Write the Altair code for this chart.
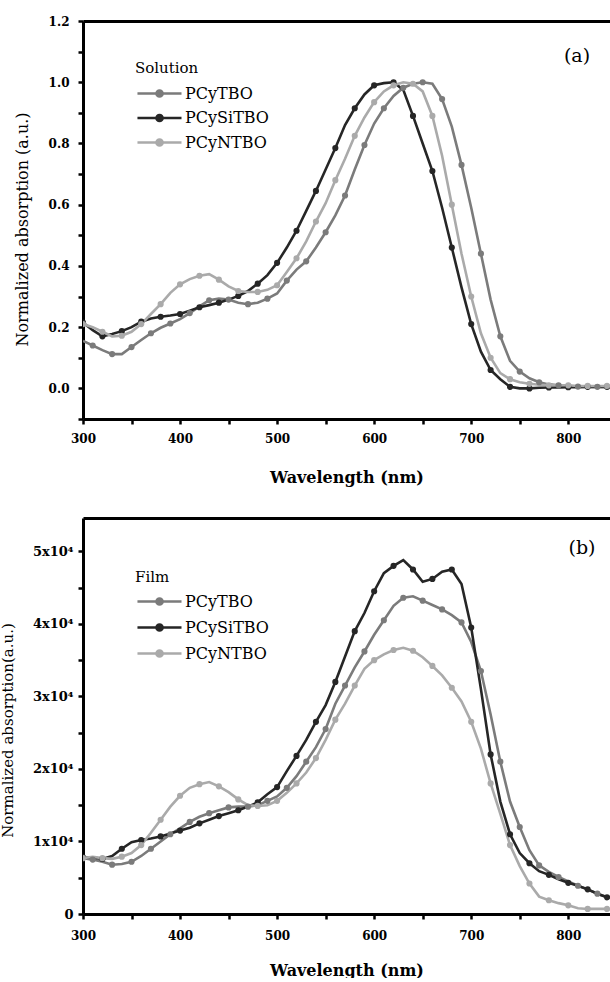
import altair as alt
import pandas as pd

# ---------------- data ----------------
wavelength = list(range(300, 850, 10))
series = ["PCyTBO", "PCySiTBO", "PCyNTBO"]
series_colors = ["#7b7b7b", "#262626", "#aaaaaa"]

sol_pcytbo = [0.155, 0.14, 0.125, 0.112, 0.112, 0.135, 0.158, 0.18, 0.198, 0.212,
              0.226, 0.246, 0.268, 0.288, 0.293, 0.29, 0.28, 0.275, 0.28, 0.293,
              0.31, 0.352, 0.388, 0.415, 0.46, 0.51, 0.565, 0.63, 0.715, 0.795,
              0.865, 0.915, 0.955, 0.982, 0.995, 1.0, 0.995, 0.945, 0.855, 0.73,
              0.59, 0.44, 0.29, 0.17, 0.09, 0.055, 0.033, 0.02, 0.013, 0.01,
              0.008, 0.006, 0.005, 0.005, 0.005]
sol_pcysitbo = [0.215, 0.19, 0.17, 0.178, 0.187, 0.2, 0.218, 0.228, 0.234, 0.238,
                0.243, 0.254, 0.265, 0.272, 0.28, 0.29, 0.302, 0.318, 0.342, 0.37,
                0.41, 0.46, 0.515, 0.58, 0.645, 0.715, 0.785, 0.86, 0.915, 0.96,
                0.99, 0.997, 1.0, 0.975, 0.89, 0.8, 0.71, 0.59, 0.46, 0.33,
                0.21, 0.12, 0.06, 0.03, 0.005, 0.0, 0.0, 0.002, 0.003, 0.003,
                0.004, 0.004, 0.005, 0.005, 0.005]
sol_pcyntbo = [0.21, 0.2, 0.185, 0.17, 0.172, 0.185, 0.21, 0.243, 0.275, 0.312,
               0.34, 0.357, 0.368, 0.373, 0.355, 0.333, 0.318, 0.315, 0.315, 0.322,
               0.337, 0.38, 0.425, 0.48, 0.545, 0.605, 0.68, 0.75, 0.825, 0.885,
               0.935, 0.97, 0.99, 1.0, 0.995, 0.97, 0.89, 0.76, 0.6, 0.44,
               0.3, 0.18, 0.1, 0.05, 0.03, 0.02, 0.015, 0.012, 0.01, 0.01,
               0.01, 0.008, 0.008, 0.008, 0.008]

film_pcytbo = [7700, 7500, 7200, 6800, 6900, 7200, 8000, 9000, 10000, 11000,
               11800, 12700, 13400, 13900, 14300, 14700, 14800, 14800, 15000, 15600,
               16200, 17400, 19000, 21000, 23000, 25500, 29000, 31500, 34000, 36200,
               38500, 40500, 42500, 43600, 43800, 43200, 42600, 42000, 41200, 40200,
               37500, 33500, 27500, 21000, 15500, 12000, 8800, 6700, 5800, 5100,
               4500, 3900, 3400, 2800, 2300]
film_pcysitbo = [7800, 7800, 7600, 8000, 9000, 9900, 10200, 10400, 10700, 11100,
                 11500, 11900, 12500, 13000, 13500, 13900, 14300, 14800, 15400, 16500,
                 17500, 19700, 21800, 24000, 26500, 28800, 32000, 35500, 39000, 41500,
                 44500, 47000, 48000, 48800, 47500, 45800, 46200, 47200, 47500, 45500,
                 39500, 31000, 22000, 15500, 11000, 8400, 7000, 5900, 5400, 4800,
                 4300, 3900, 3400, 2800, 2300]
film_pcyntbo = [7700, 7900, 7700, 7600, 7900, 8400, 9500, 11200, 13000, 14800,
                16300, 17400, 17900, 18200, 17600, 16800, 15800, 15000, 14900, 15000,
                15600, 16700, 18000, 19500, 21500, 24000, 26800, 29000, 31500, 33800,
                35000, 35800, 36400, 36700, 36300, 35400, 34200, 32900, 31200, 29300,
                26500, 22800, 18000, 13800, 9500, 6600, 4200, 2400, 1900, 1500,
                1200, 800, 700, 700, 700]

x_ticks = [300, 350, 400, 450, 500, 550, 600, 650, 700, 750, 800]
sol_ticks = [-0.1, 0.0, 0.1, 0.2, 0.3, 0.4, 0.5, 0.6, 0.7, 0.8, 0.9, 1.0, 1.1, 1.2]
film_ticks = [0, 5000, 10000, 15000, 20000, 25000, 30000, 35000, 40000, 45000, 50000]
panel_labels = ["(a)", "(b)"]
legend_titles = ["Solution", "Film"]

FONT = "DejaVu Serif"
# legend glyph: a line with a dot in its middle (unit = half of sqrt(symbolSize))
LEGEND_SYMBOL = ("M-0.92,0H2.75M0.66,0A0.26,0.26,0,1,1,1.18,0"
                 "A0.26,0.26,0,1,1,0.66,0Z")
PLOT_W = 527


def make_df(value_lists):
    rows = []
    for name, vals, parity in zip(series, value_lists, [1, 0, 0]):
        for i, (w, v) in enumerate(zip(wavelength, vals)):
            rows.append({"nm": w, "value": v, "series": name, "marker": (i % 2) == parity})
    return pd.DataFrame(rows)


def panel(df, y_domain, y_ticks, y_label_expr, y_title, y_title_x, y_title_y,
          y_title_size, y_label_pad, y_label_size, height, legend_title, legend_y,
          row_pad, title_pad, label, label_xy, x_label_pad, x_title_y):
    x_scale = alt.Scale(domain=[300, 843], nice=False, zero=False)
    y_scale = alt.Scale(domain=y_domain, nice=False, zero=False)
    color_scale = alt.Scale(domain=series, range=series_colors)
    legend = alt.Legend(
        title=legend_title, orient="none", legendX=52, legendY=legend_y,
        symbolType=LEGEND_SYMBOL, symbolSize=576, symbolStrokeWidth=2.5,
        labelFont=FONT, labelFontSize=16, labelColor="black", labelOffset=23,
        titleFont=FONT, titleFontSize=15, titleFontWeight="normal", titleColor="black",
        rowPadding=row_pad, titlePadding=title_pad, padding=0,
    )
    x_axis_bottom = alt.Axis(
        values=x_ticks, labelExpr="datum.value % 100 == 0 ? datum.label : ''",
        title="Wavelength (nm)", titleFont=FONT, titleFontSize=16, titleFontWeight="bold",
        titleColor="black", titleY=x_title_y, titleBaseline="middle",
        labelFont=FONT, labelFontSize=12, labelFontWeight="bold", labelColor="black",
        labelPadding=x_label_pad, labelFlush=False, labelOverlap=False,
        tickSize=5, tickWidth=2.5, tickColor="black",
        domainWidth=3, domainColor="black", grid=False,
    )
    x_axis_top = alt.Axis(orient="top", labels=False, ticks=False, title=None,
                          domainWidth=3, domainColor="black", grid=False)
    y_axis = alt.Axis(
        values=y_ticks, labelExpr=y_label_expr, title=y_title,
        titleFont=FONT, titleFontSize=y_title_size, titleFontWeight="normal",
        titleColor="black", titleX=y_title_x, titleY=y_title_y, titleAngle=270,
        titleAlign="center", titleBaseline="middle",
        labelFont=FONT, labelFontSize=y_label_size, labelFontWeight="bold", labelColor="black",
        labelPadding=y_label_pad, labelFlush=False, labelOverlap=False,
        tickSize=5, tickWidth=2.5, tickColor="black",
        domainWidth=3, domainColor="black", grid=False,
    )
    base = alt.Chart(df)
    lines = base.mark_line(strokeWidth=2.6, clip=True).encode(
        x=alt.X("nm:Q", scale=x_scale, axis=x_axis_bottom),
        y=alt.Y("value:Q", scale=y_scale, axis=y_axis),
        color=alt.Color("series:N", scale=color_scale, legend=legend),
    )
    points = base.transform_filter("datum.marker").mark_point(
        filled=True, size=38, opacity=1, clip=True
    ).encode(
        x=alt.X("nm:Q", scale=x_scale, axis=x_axis_top),
        y=alt.Y("value:Q", scale=y_scale, axis=y_axis),
        color=alt.Color("series:N", scale=color_scale, legend=legend),
    )
    tag = alt.Chart(pd.DataFrame({"label": [label]})).mark_text(
        font=FONT, fontSize=19, align="center", baseline="middle", color="black"
    ).encode(text="label:N", x=alt.value(label_xy[0]), y=alt.value(label_xy[1]))
    return alt.layer(lines, points, tag).resolve_axis(x="independent").properties(
        width=PLOT_W, height=height
    )


top = panel(
    make_df([sol_pcytbo, sol_pcysitbo, sol_pcyntbo]),
    y_domain=[-0.1, 1.2], y_ticks=sol_ticks,
    y_label_expr="datum.value > -0.05 && abs(round(datum.value * 10)) % 2 == 0 ? format(datum.value, '.1f') : ''",
    y_title="Normalized absorption (a.u.)", y_title_x=-61, y_title_y=208,
    y_title_size=16, y_label_pad=9, y_label_size=12, height=398,
    legend_title=legend_titles[0], legend_y=40, row_pad=2.5, title_pad=4,
    label=panel_labels[0], label_xy=(494, 35), x_label_pad=9, x_title_y=58,
)
bottom = panel(
    make_df([film_pcytbo, film_pcysitbo, film_pcyntbo]),
    y_domain=[0, 54600], y_ticks=film_ticks,
    y_label_expr="datum.value == 0 ? '0' : (datum.value % 10000 == 0 ? (datum.value / 10000) + 'x10\u2074' : '')",
    y_title="Normalized absorption(a.u.)", y_title_x=-76, y_title_y=212,
    y_title_size=15, y_label_pad=5, y_label_size=13, height=396,
    legend_title=legend_titles[1], legend_y=52, row_pad=4, title_pad=3,
    label=panel_labels[1], label_xy=(499, 30), x_label_pad=11, x_title_y=56,
)

chart = alt.vconcat(top, bottom, spacing=33).resolve_legend(
    color="independent"
).resolve_scale(color="independent").configure_view(strokeWidth=0).properties(
    padding={"top": 15, "left": 0, "right": 0, "bottom": 0}, background="white"
)

chart.save("out.html", embed_options={"renderer": "svg", "actions": False})
